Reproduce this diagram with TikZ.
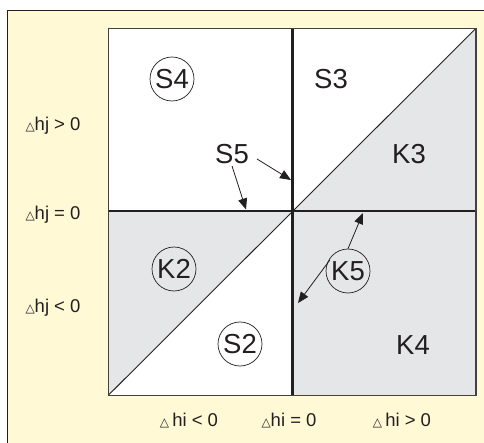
\documentclass[tikz,border=0pt]{standalone}
\usepackage{fontspec}
\setmainfont{Liberation Sans}
\newfontfamily\dejavu{DejaVu Sans}
\usetikzlibrary{arrows.meta}
\definecolor{cream}{RGB}{255,249,214}
\definecolor{panel}{RGB}{229,230,232}
\definecolor{ink}{RGB}{35,31,32}
\newcommand{\tri}{{\dejavu\fontsize{12}{12}\selectfont △}}
\tikzset{
  big/.style={font=\fontsize{27.5}{27.5}\selectfont, text=ink, inner sep=0pt},
  ring/.style={big, circle, draw=ink, line width=0.7pt, minimum size=44pt},
  axis/.style={font=\fontsize{18.5}{18.5}\selectfont, text=ink, inner sep=0pt},
  thick line/.style={line width=2.8pt, draw=ink},
  pointer/.style={draw=ink, line width=0.8pt, -{Triangle[length=11pt,width=9pt]}}
}
\begin{document}
\begin{tikzpicture}[x=1pt,y=-1pt]
\useasboundingbox (0,0) rectangle (484,443);
\fill[white] (0,0) rectangle (484,443);
\draw[fill=cream, line width=1pt, draw=ink] (7.3,11) rectangle (490,450);
% quadrants
\fill[white] (108.3,28.3) rectangle (476,395.3);
\fill[panel] (292.3,211) rectangle (476,395.3);
\fill[panel] (108.3,395.3) -- (108.3,211) -- (292.3,211) -- cycle;
\fill[panel] (292.3,211) -- (476,28.3) -- (476,211) -- cycle;
\coordinate (bl) at (108.3,395.3);
\coordinate (tr) at (476,28.3);
\draw[ink, line width=0.9pt] (bl) -- (tr);
\coordinate (vt) at (292.3,28.3);
\coordinate (vb) at (292.3,395.3);
\coordinate (hl) at (108.3,211);
\coordinate (hr) at (476,211);
\draw[thick line] (vt) -- (vb);
\draw[thick line] (hl) -- (hr);
\draw[draw=ink!85, line width=1.2pt] (108.3,28.3) rectangle (476,395.3);
% labels
\node[ring] (s4) at (172,79) {S4};
\node[big] (s3) at (331,79) {S3};
\node[big] (s5) at (232,154) {S5};
\node[big] (k3) at (409,154) {K3};
\node[ring] (k2) at (174,269) {K2};
\node[ring] (k5) at (348,271) {K5};
\node[ring] (s2) at (240,344) {S2};
\node[big] (k4) at (413,345) {K4};
% arrows
\coordinate (a1) at (291,180);
\coordinate (a2) at (246,209.5);
\coordinate (a3) at (363,213);
\coordinate (a4) at (298,303);
\draw[pointer] (257,159) -- (a1);
\draw[pointer] (s5.south) ++(0,2) -- (a2);
\draw[pointer] (k5.north) -- (a3);
\draw[pointer] (k5.north west) ++(-2.5,5) -- (a4);
% axis labels
\node[axis] (l1) at (53,126) {\tri hj > 0};
\node[axis] (l2) at (53,215) {\tri hj = 0};
\node[axis] (l3) at (53,308) {\tri hj < 0};
\node[axis] (b1) at (189,421) {\tri\,hi < 0};
\node[axis] (b2) at (289,421) {\tri hi = 0};
\node[axis] (b3) at (402,421) {\tri\,hi > 0};
\end{tikzpicture}
\end{document}
